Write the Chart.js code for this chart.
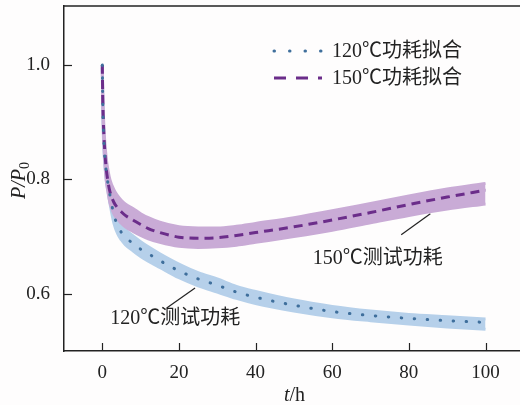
<!DOCTYPE html>
<html>
<head>
<meta charset="utf-8">
<script src="https://cdn.jsdelivr.net/npm/chart.js@4/dist/chart.umd.min.js"></script>
<style>
  body { margin: 0; background: #fefdfd; }
  #wrap { width: 520px; height: 405px; position: relative; }
</style>
</head>
<body>
<div id="wrap"><canvas id="myChart"></canvas></div>
<script>
// time axis (h) and normalised power P/P0
const tHours = [0, 0.1, 0.25, 0.5, 1, 1.5, 2, 3, 4, 5, 6, 8, 10, 12, 15, 20, 25, 30, 35, 40, 50, 60, 70, 80, 90, 100];

const fit120 = [1.0, 0.94, 0.895, 0.855, 0.815, 0.792, 0.772, 0.739, 0.719, 0.707, 0.699, 0.688, 0.678, 0.670, 0.658, 0.640, 0.626, 0.615, 0.603, 0.594, 0.580, 0.569, 0.562, 0.557, 0.553, 0.550];
const band120Hi = [1.0, 0.95, 0.91, 0.87, 0.83, 0.806, 0.787, 0.754, 0.734, 0.722, 0.713, 0.701, 0.691, 0.682, 0.670, 0.652, 0.637, 0.626, 0.613, 0.604, 0.589, 0.578, 0.570, 0.564, 0.560, 0.556];
const band120Lo = [0.995, 0.925, 0.88, 0.84, 0.80, 0.778, 0.758, 0.724, 0.705, 0.694, 0.686, 0.675, 0.665, 0.657, 0.646, 0.628, 0.614, 0.603, 0.592, 0.583, 0.570, 0.560, 0.553, 0.547, 0.542, 0.538];

const fit150 = [1.0, 0.945, 0.905, 0.865, 0.82, 0.795, 0.778, 0.760, 0.750, 0.743, 0.737, 0.729, 0.721, 0.714, 0.707, 0.699, 0.697, 0.698, 0.702, 0.707, 0.717, 0.729, 0.742, 0.756, 0.769, 0.781];
const band150Hi = [1.0, 0.955, 0.92, 0.88, 0.838, 0.815, 0.799, 0.782, 0.771, 0.763, 0.757, 0.749, 0.740, 0.733, 0.725, 0.717, 0.715, 0.715, 0.718, 0.723, 0.733, 0.745, 0.758, 0.771, 0.783, 0.793];
const band150Lo = [0.995, 0.93, 0.89, 0.85, 0.80, 0.777, 0.759, 0.740, 0.730, 0.723, 0.717, 0.709, 0.702, 0.696, 0.690, 0.683, 0.681, 0.682, 0.685, 0.690, 0.700, 0.711, 0.724, 0.737, 0.748, 0.757];

const xTicks = [0, 20, 40, 60, 80, 100];
const yTicks = [0.6, 0.8, 1.0];

const fitNames = ['120℃功耗拟合', '150℃功耗拟合'];
const noteNames = ['120℃测试功耗', '150℃测试功耗'];
// leader lines and label anchors for the measured curves, in (t, P/P0)
const note120Line = [[16.8, 0.575], [24.2, 0.610]];
const note150Line = [[78.0, 0.703], [85.6, 0.740]];
const note120Pos = [19, 0.557];
const note150Pos = [71.9, 0.661];

const BLUE = '#3f6f9c', PURPLE = '#6b2d8a';
const BLUE_BAND = '#b6d0ea', PURPLE_BAND = '#c9abd6';
const INK = '#222';
const FONT = "20px 'Liberation Serif', 'Noto Sans CJK SC', serif";

function pts(ys) {
    return tHours.map(function(t, i) { return {x: t, y: ys[i]}; });
}
function seg(arr) {
    return arr.map(function(p) { return {x: p[0], y: p[1]}; });
}

const framePlugin = {
    id: 'frame',
    afterDatasetsDraw: function(chart) {
        const ctx = chart.ctx, xs = chart.scales.x, ys = chart.scales.y, a = chart.chartArea;
        ctx.save();
        // top line
        ctx.strokeStyle = INK;
        ctx.lineWidth = 1.5;
        ctx.beginPath();
        ctx.moveTo(a.left, a.top);
        ctx.lineTo(chart.width, a.top);
        ctx.stroke();
        // inward tick marks
        ctx.lineWidth = 1.2;
        xTicks.forEach(function(v) {
            const px = Math.round(xs.getPixelForValue(v)) + 0.5;
            ctx.beginPath();
            ctx.moveTo(px, a.bottom);
            ctx.lineTo(px, a.bottom - 8);
            ctx.stroke();
        });
        yTicks.forEach(function(v) {
            const py = Math.round(ys.getPixelForValue(v)) + 0.5;
            ctx.beginPath();
            ctx.moveTo(a.left, py);
            ctx.lineTo(a.left + 8, py);
            ctx.stroke();
        });

        // labels of measured curves
        ctx.fillStyle = INK;
        ctx.font = FONT;
        ctx.textAlign = 'center';
        ctx.textBaseline = 'middle';
        ctx.fillText(noteNames[0], xs.getPixelForValue(note120Pos[0]), ys.getPixelForValue(note120Pos[1]));
        ctx.fillText(noteNames[1], xs.getPixelForValue(note150Pos[0]), ys.getPixelForValue(note150Pos[1]));

        // legend
        const ds = chart.data.datasets;
        [0, 1].forEach(function(i) {
            const y = 51 + i * 27;
            ctx.save();
            ctx.strokeStyle = ds[i].borderColor;
            ctx.lineWidth = ds[i].borderWidth;
            ctx.lineCap = ds[i].borderCapStyle;
            ctx.setLineDash(i === 0 ? [0.5, 15] : [12, 10]);
            ctx.beginPath();
            ctx.moveTo(274, y);
            ctx.lineTo(322, y);
            ctx.stroke();
            ctx.restore();
            ctx.textAlign = 'left';
            ctx.fillText(fitNames[i], 332, y + 1);
        });

        // axis titles
        ctx.textAlign = 'left';
        ctx.textBaseline = 'alphabetic';
        ctx.font = "italic 20px 'Liberation Serif', serif";
        const tw = ctx.measureText('t').width;
        ctx.fillText('t', 284, 401);
        ctx.font = "20px 'Liberation Serif', serif";
        ctx.fillText('/h', 284 + tw, 401);

        ctx.translate(25, 199);
        ctx.rotate(-Math.PI / 2);
        ctx.font = "italic 20px 'Liberation Serif', serif";
        ctx.fillText('P/P', 0, 0);
        const x = ctx.measureText('P/P').width;
        ctx.font = "14px 'Liberation Serif', serif";
        ctx.fillText('0', x, 4);
        ctx.restore();
    }
};

const ctx = document.getElementById('myChart').getContext('2d');
const myChart = new Chart(ctx, {
    type: 'line',
    data: {
        datasets: [
            {
                label: fitNames[0],
                data: pts(fit120),
                borderColor: BLUE,
                borderWidth: 3,
                borderCapStyle: 'round',
                borderDash: [0.5, 12.5],
                pointRadius: 0,
                cubicInterpolationMode: 'monotone',
                fill: false
            },
            {
                label: fitNames[1],
                data: pts(fit150),
                borderColor: PURPLE,
                borderWidth: 3,
                borderCapStyle: 'butt',
                borderDash: [9, 6],
                pointRadius: 0,
                cubicInterpolationMode: 'monotone',
                fill: false
            },
            {
                label: 'band150Hi',
                data: pts(band150Hi),
                borderColor: PURPLE_BAND,
                backgroundColor: PURPLE_BAND,
                borderWidth: 3,
                pointRadius: 0,
                cubicInterpolationMode: 'monotone',
                fill: 3
            },
            {
                label: 'band150Lo',
                data: pts(band150Lo),
                borderColor: PURPLE_BAND,
                borderWidth: 3,
                pointRadius: 0,
                cubicInterpolationMode: 'monotone',
                fill: false
            },
            {
                label: 'band120Hi',
                data: pts(band120Hi),
                borderColor: BLUE_BAND,
                backgroundColor: BLUE_BAND,
                borderWidth: 3,
                pointRadius: 0,
                cubicInterpolationMode: 'monotone',
                fill: 5
            },
            {
                label: 'band120Lo',
                data: pts(band120Lo),
                borderColor: BLUE_BAND,
                borderWidth: 3,
                pointRadius: 0,
                cubicInterpolationMode: 'monotone',
                fill: false
            },
            {
                label: 'note120',
                data: seg(note120Line),
                borderColor: INK,
                borderWidth: 1.2,
                pointRadius: 0,
                fill: false
            },
            {
                label: 'note150',
                data: seg(note150Line),
                borderColor: INK,
                borderWidth: 1.2,
                pointRadius: 0,
                fill: false
            }
        ]
    },
    options: {
        responsive: true,
        maintainAspectRatio: false,
        animation: false,
        layout: { padding: { top: 6, left: 0, right: 0, bottom: 0 } },
        plugins: {
            legend: { display: false },
            tooltip: { enabled: false }
        },
        scales: {
            x: {
                type: 'linear',
                min: -10,
                max: 109,
                grid: { display: false },
                border: { display: true, color: INK, width: 1.5 },
                ticks: { color: INK, font: { family: "'Liberation Serif', serif", size: 19 }, padding: 3, maxRotation: 0 },
                afterBuildTicks: function(s) { s.ticks = xTicks.map(function(v) { return {value: v}; }); },
                afterFit: function(s) {
                    s.height = 54;
                    s.paddingLeft = 0; s.paddingRight = 0;
                }
            },
            y: {
                type: 'linear',
                min: 0.5,
                max: 1.103,
                grid: { display: false },
                border: { display: true, color: INK, width: 1.5 },
                ticks: {
                    color: INK,
                    font: { family: "'Liberation Serif', serif", size: 19 },
                    padding: 6,
                    callback: function(v) { return v.toFixed(1); }
                },
                afterBuildTicks: function(s) { s.ticks = yTicks.map(function(v) { return {value: v}; }); },
                afterFit: function(s) {
                    s.width = 64;
                    s.paddingTop = 0; s.paddingBottom = 0;
                }
            }
        }
    },
    plugins: [framePlugin]
});
</script>
</body>
</html>
